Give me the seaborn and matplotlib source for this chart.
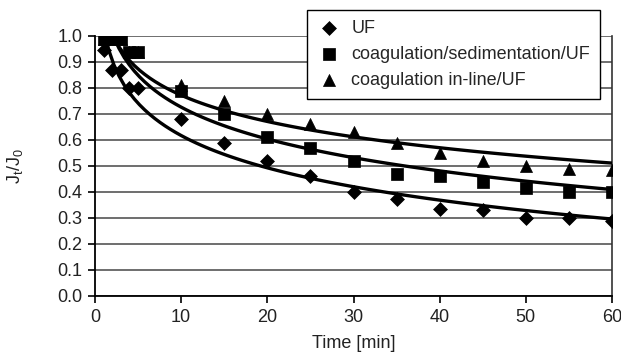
import matplotlib
matplotlib.use("Agg")
import matplotlib.pyplot as plt
import seaborn as sns
import pandas as pd

# ---- data ----
time = [1, 2, 3, 4, 5, 10, 15, 20, 25, 30, 35, 40, 45, 50, 55, 60]
uf = [0.945, 0.87, 0.87, 0.80, 0.80, 0.68, 0.59, 0.52, 0.46, 0.40, 0.375, 0.335, 0.33, 0.30, 0.30, 0.29]
coag_sed = [0.99, 0.99, 0.99, 0.94, 0.94, 0.79, 0.70, 0.61, 0.57, 0.52, 0.47, 0.46, 0.44, 0.415, 0.40, 0.40]
coag_inline = [0.99, 0.99, 0.99, 0.94, 0.94, 0.81, 0.75, 0.70, 0.66, 0.63, 0.59, 0.55, 0.52, 0.50, 0.49, 0.485]
series_names = ["UF", "coagulation/sedimentation/UF", "coagulation in-line/UF"]
x_ticks = [0, 10, 20, 30, 40, 50, 60]
y_ticks = [0.0, 0.1, 0.2, 0.3, 0.4, 0.5, 0.6, 0.7, 0.8, 0.9, 1.0]

df = pd.DataFrame({
    "time": time * 3,
    "ratio": uf + coag_sed + coag_inline,
    "series": [series_names[0]] * len(time) + [series_names[1]] * len(time) + [series_names[2]] * len(time),
})

sns.set_theme(style="white")
plt.rcParams["font.family"] = ["Liberation Sans", "DejaVu Sans"]
plt.rcParams["mathtext.fontset"] = "custom"
plt.rcParams["mathtext.rm"] = "Liberation Sans"
plt.rcParams["mathtext.it"] = "Liberation Sans"

fig = plt.figure(figsize=(6.21, 3.54), dpi=100)
ax = fig.add_axes([95 / 621, 1 - 296 / 354, (612 - 95) / 621, (296 - 36) / 354])
ax.set_xlim(0, 60)
ax.set_ylim(0, 1.0)

markers = {series_names[0]: "D", series_names[1]: "s", series_names[2]: "^"}
sizes = {series_names[0]: 50, series_names[1]: 75, series_names[2]: 75}

for name in series_names:
    sub = df[df["series"] == name]
    sns.scatterplot(data=sub, x="time", y="ratio", marker=markers[name], s=sizes[name],
                    color="black", edgecolor="black", linewidth=0.5, ax=ax, label=name, zorder=4)

# logarithmic trendlines fitted to each series
for name in series_names:
    sub = df[df["series"] == name]
    sns.regplot(data=sub, x="time", y="ratio", logx=True, ci=None, scatter=False,
                ax=ax, color="black", line_kws={"lw": 2.4, "zorder": 3},
                truncate=True)

ax.set_xlim(0, 60)
ax.set_ylim(0, 1.0)
ax.set_xticks(x_ticks)
ax.set_yticks(y_ticks)
ax.set_yticklabels([f"{v:.1f}" for v in y_ticks])
ax.yaxis.grid(True, color="#555555", lw=1.2)
ax.xaxis.grid(False)
ax.set_axisbelow(True)
for side in ["left", "bottom"]:
    ax.spines[side].set_color("black")
    ax.spines[side].set_linewidth(1.3)
ax.spines["right"].set_color("#333333")
ax.spines["right"].set_linewidth(1.2)
ax.spines["top"].set_visible(False)
ax.tick_params(axis="both", direction="out", length=5, width=1.2, color="black",
               labelsize=13, labelcolor="#222222", pad=4, left=True, bottom=True)
ax.set_xlabel("Time [min]", fontsize=13, color="#222222", labelpad=7)
ax.set_ylabel(r"J$_\mathregular{t}$/J$_\mathregular{0}$", fontsize=13, color="#222222", labelpad=23)

handles, labels = ax.get_legend_handles_labels()
leg = ax.legend(handles, labels, loc="upper right", bbox_to_anchor=(600 / 621, 1 - 10 / 354),
                bbox_transform=fig.transFigure, frameon=True, fancybox=False, framealpha=1,
                edgecolor="black", fontsize=13, labelspacing=0.5, handletextpad=0.6,
                borderpad=0.55, borderaxespad=0, handlelength=1.3, markerscale=1.0)
leg.get_frame().set_linewidth(1.0)
leg.set_zorder(10)

fig.savefig("out.png", dpi=100)
